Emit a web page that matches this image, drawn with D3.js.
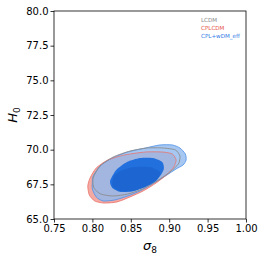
<!DOCTYPE html>
<html><head><meta charset="utf-8">
<script src="https://cdn.jsdelivr.net/npm/d3@7"></script>
<style>body{margin:0;background:#fff}svg{display:block}text{font-family:"DejaVu Sans",sans-serif}</style>
</head><body>
<script>
const xTicks=[0.75,0.80,0.85,0.90,0.95,1.00];
const yTicks=[65.0,67.5,70.0,72.5,75.0,77.5,80.0];
const legendLabels=["LCDM","CPLCDM","CPL+wDM_eff"];
const legendColors=["#8a8a8a","#e8554b","#2f7be6"];
// contour outlines [sigma8, H0]
const cplOuter=[[0.797,67.96],[0.805,68.68],[0.820,69.25],[0.842,69.62],[0.869,69.83],[0.891,69.83],[0.904,69.69],[0.909,69.25],[0.906,68.75],[0.898,68.25],[0.883,67.60],[0.866,67.02],[0.849,66.59],[0.832,66.23],[0.815,66.15],[0.803,66.30],[0.796,66.73],[0.794,67.38]];
const wdmOuter=[[0.801,68.10],[0.810,68.82],[0.826,69.40],[0.846,69.83],[0.869,70.12],[0.888,70.34],[0.904,70.34],[0.914,70.12],[0.921,69.69],[0.922,69.25],[0.918,68.89],[0.909,68.61],[0.895,68.10],[0.878,67.52],[0.862,67.02],[0.846,66.66],[0.829,66.37],[0.814,66.30],[0.805,66.59],[0.800,67.16],[0.800,67.74]];
const lcdmOuter=[[0.801,67.96],[0.810,68.82],[0.827,69.47],[0.849,69.90],[0.871,70.12],[0.892,70.12],[0.908,69.98],[0.914,69.54],[0.912,68.97],[0.901,68.39],[0.884,67.74],[0.865,67.16],[0.846,66.80],[0.827,66.66],[0.811,66.80],[0.802,67.24]];
const wdmInner=[[0.823,67.74],[0.831,68.53],[0.845,69.11],[0.862,69.40],[0.879,69.40],[0.891,69.11],[0.893,68.61],[0.887,68.03],[0.872,67.45],[0.854,67.02],[0.837,66.95],[0.826,67.24]];
const cplInner=[[0.826,67.38],[0.828,68.10],[0.839,68.53],[0.855,68.75],[0.875,68.75],[0.888,68.39],[0.884,67.81],[0.869,67.31],[0.852,67.02],[0.836,67.02]];

const W=266,H=265,L=54,R=246,T=11,B=219;
const svg=d3.select("body").append("svg").attr("width",W).attr("height",H);
const x=d3.scaleLinear().domain([0.75,1.0]).range([L,R]);
const y=d3.scaleLinear().domain([65,80]).range([B,T]);
const line=d3.line().x(d=>x(d[0])).y(d=>y(d[1])).curve(d3.curveCardinalClosed.tension(0.3));

svg.append("path").attr("d",line(cplOuter)).attr("fill","#f5a9a3").attr("stroke","none");
svg.append("path").attr("d",line(wdmOuter)).attr("fill","#8fb9ef").attr("fill-opacity",0.8).attr("stroke","#4d8fe6").attr("stroke-width",0.8);
svg.append("path").attr("d",line(cplOuter)).attr("fill","none").attr("stroke","#e8736b").attr("stroke-width",0.8);
svg.append("path").attr("d",line(lcdmOuter)).attr("fill","none").attr("stroke","#8c8c8c").attr("stroke-width",0.9);
svg.append("path").attr("d",line(wdmInner)).attr("fill","#2170dd").attr("stroke","none");
svg.append("path").attr("d",line(cplInner)).attr("fill","#1d66d2").attr("stroke","none");

// frame
svg.append("rect").attr("x",L).attr("y",T).attr("width",R-L).attr("height",B-T).attr("fill","none").attr("stroke","#000").attr("stroke-width",0.8);

const xa=svg.append("g").attr("transform",`translate(0,${B})`).call(d3.axisBottom(x).tickValues(xTicks).tickFormat(d3.format(".2f")).tickSize(3.5).tickPadding(2));
const ya=svg.append("g").attr("transform",`translate(${L},0)`).call(d3.axisLeft(y).tickValues(yTicks).tickFormat(d3.format(".1f")).tickSize(3.5).tickPadding(2));
[xa,ya].forEach(g=>{g.select(".domain").remove();g.selectAll("line").attr("stroke","#000").attr("stroke-width",0.8);g.selectAll("text").attr("font-size",10).attr("fill","#000").attr("font-family","DejaVu Sans");});

svg.append("text").attr("x",(L+R)/2).attr("y",250).attr("text-anchor","middle").attr("font-size",13).attr("font-style","italic").html('σ<tspan font-size="9" dy="3" font-style="normal">8</tspan>');
svg.append("text").attr("transform",`translate(17,${(T+B)/2}) rotate(-90)`).attr("text-anchor","middle").attr("font-size",13).attr("font-style","italic").html('H<tspan font-size="9" dy="3" font-style="normal">0</tspan>');

legendLabels.forEach((t,i)=>svg.append("text").attr("x",201).attr("y",22+i*8).attr("font-size",5.6).attr("fill",legendColors[i]).text(t));
</script>
</body></html>
